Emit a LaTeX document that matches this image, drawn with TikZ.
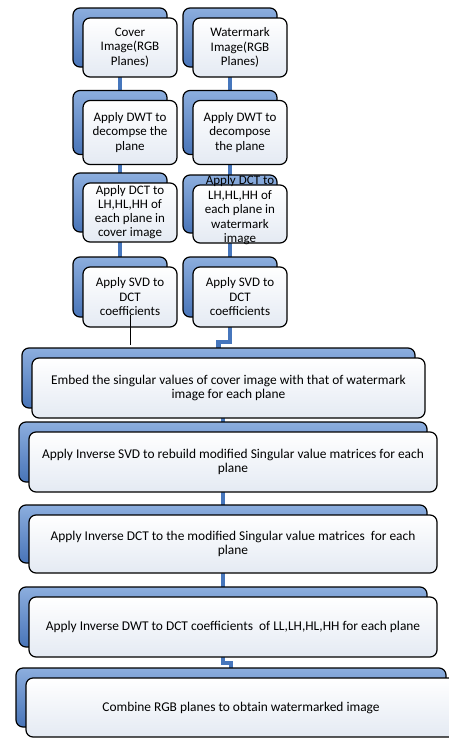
\documentclass[tikz,border=0pt]{standalone}
\usepackage{fontspec}
\setmainfont{Carlito}
\usetikzlibrary{shadows,backgrounds}
\definecolor{backtop}{RGB}{140,174,222}
\definecolor{backbot}{RGB}{72,116,184}
\definecolor{cardbot}{RGB}{228,234,243}
\definecolor{linkblue}{RGB}{70,118,188}
\tikzset{
  card/.style={draw=black, line width=1.2pt, rounded corners=7pt,
    top color=white, bottom color=cardbot, align=center, inner sep=1pt,
    general shadow={shadow xshift=-10pt, shadow yshift=10pt, draw=black,
      line width=1.2pt, top color=backtop, bottom color=backbot}},
  smallcard/.style={card, minimum width=94pt, minimum height=60pt,
    font=\fontsize{13}{14.5}\selectfont},
  widecard/.style={card, minimum width=408pt, minimum height=60pt,
    font=\fontsize{13.4}{14}\selectfont},
  link/.style={draw=linkblue, line width=4.5pt},
  stub/.style={draw=black, line width=0.8pt}
}
\begin{document}
\begin{tikzpicture}[x=1pt, y=-1pt]
	\useasboundingbox (0,0) rectangle (448,739);
	% two columns: cover image left, watermark right
	\node[smallcard, minimum height=59pt] (cover) at (130,47.5) {Cover\\Image(RGB\\Planes)};
	\node[smallcard, minimum height=59pt] (wmark) at (240,47.5) {Watermark\\Image(RGB\\Planes)};
	\node[smallcard, minimum height=64pt] (dwtc) at (130,132.5) {Apply DWT to\\decompse the\\plane};
	\node[smallcard, minimum height=64pt] (dwtw) at (240,132.5) {Apply DWT to\\decompose\\the plane};
	\node[smallcard, minimum height=59pt, font=\fontsize{13}{14}\selectfont] (dctc) at (130,212.5) {Apply DCT to\\LH,HL,HH of\\each plane in\\cover image};
	\node[smallcard, minimum height=58pt] (dctw) at (240,214) {\smash{\begin{tabular}{@{}c@{}}Apply DCT to\\LH,HL,HH of\\each plane in\\watermark\\image\end{tabular}}};
	\node[smallcard] (svdc) at (130,297) {Apply SVD to\\DCT\\coefficients};
	\node[smallcard] (svdw) at (240,297) {Apply SVD to\\DCT\\coefficients};
	% joint steps
	\node[widecard, minimum width=393pt] (embed) at (228.5,388) {Embed the singular values of cover image with that of watermark\\image for each plane};
	\node[widecard] (isvd) at (233,462) {Apply Inverse SVD to rebuild modified Singular value matrices for each\\plane};
	\node[widecard, minimum height=58pt] (idct) at (233,544) {Apply Inverse DCT to the modified Singular value matrices~~for each\\plane};
	\node[widecard] (idwt) at (233,627) {Apply Inverse DWT to DCT coefficients~~of LL,LH,HL,HH for each plane};
	\node[widecard, minimum width=430pt, minimum height=59pt] (combine) at (241,707.5) {Combine RGB planes to obtain watermarked image};
	\coordinate (bendA) at (230,342);
	\coordinate (bendB) at (223,415);
	\coordinate (bendC) at (223,663);
	\coordinate (stubend) at (130,345);
	\begin{scope}[on background layer]
		\foreach \a/\b in {cover/dwtc,dwtc/dctc,dctc/svdc,wmark/dwtw,dwtw/dctw,dctw/svdw,isvd/idct,idct/idwt}{
			\draw[link] ([xshift=-10pt]\a.center) -- ([xshift=-10pt]\b.center);
		}
		\draw[link] ([xshift=-10pt]svdw.center) -- (bendA) -| ([xshift=-10pt]embed.center);
		\draw[link] ([xshift=-10pt]embed.center) |- (bendB) -- ([xshift=-10pt]isvd.center);
		\draw[link] ([xshift=-10pt]idwt.center) -- (bendC) -| ([xshift=-10pt]combine.center);
	\end{scope}
	\draw[stub] ([yshift=-18pt]svdc.center) -- (stubend);
\end{tikzpicture}
\end{document}
